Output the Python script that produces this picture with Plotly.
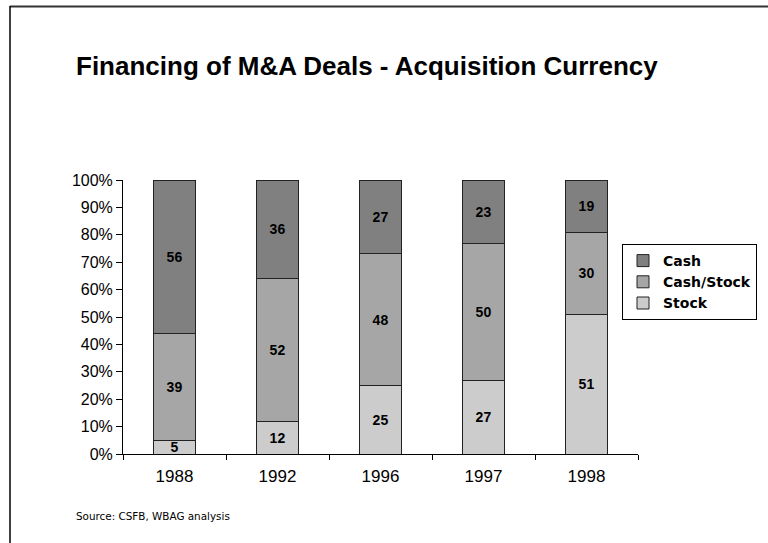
import plotly.graph_objects as go

years = ["1988", "1992", "1996", "1997", "1998"]
stock = [5, 12, 25, 27, 51]
cash_stock = [39, 52, 48, 50, 30]
cash = [56, 36, 27, 23, 19]

series = [
    ("Stock", stock, "#cccccc"),
    ("Cash/Stock", cash_stock, "#a6a6a6"),
    ("Cash", cash, "#808080"),
]

fig = go.Figure()
for name, vals, col in series:
    fig.add_bar(
        name=name, x=years, y=vals,
        marker=dict(color=col, line=dict(color="#222222", width=1)),
        text=vals, texttemplate="<b>%{text}</b>",
        textposition="inside", insidetextanchor="middle",
        textangle=0, constraintext="none",
        textfont=dict(family="Arial, Liberation Sans", size=14, color="black"),
        hoverinfo="skip",
    )

# page geometry in pixels
W, H = 768, 543
L, R, T, B = 123, 130, 180, 89
pw, ph = W - L - R, H - T - B
px = lambda v: (v - L) / pw
py = lambda v: (H - B - v) / ph

fig.update_layout(
    width=W, height=H,
    barmode="stack", bargap=0.59,
    plot_bgcolor="white", paper_bgcolor="white",
    margin=dict(l=L, r=R, t=T, b=B, autoexpand=False),
    title=dict(
        text="<b>Financing of M&A Deals - Acquisition Currency</b>",
        x=76 / W, xanchor="left", y=1 - 66 / H, yanchor="middle",
        font=dict(family="Arial, Liberation Sans", size=26, color="black"),
    ),
    legend=dict(
        x=px(622), y=py(244), xanchor="left", yanchor="top",
        traceorder="reversed",
        bordercolor="black", borderwidth=1, bgcolor="white",
        font=dict(family="Verdana, DejaVu Sans", size=14, color="black",
                  weight="bold"),
        itemwidth=30, tracegroupgap=0,
    ),
    xaxis=dict(
        showline=True, linecolor="black", linewidth=1,
        ticks="outside", tickson="boundaries", ticklen=5, tickcolor="black",
        ticklabelstandoff=7,
        tickfont=dict(family="Arial, Liberation Sans", size=17, color="black"),
        showgrid=False,
    ),
    yaxis=dict(
        range=[0, 100], dtick=10, ticksuffix="%",
        showline=True, linecolor="black", linewidth=1,
        ticks="outside", ticklen=6, tickcolor="black",
        tickfont=dict(family="Arial, Liberation Sans", size=16, color="black"),
        showgrid=False, zeroline=False,
    ),
    shapes=[
        # page frame, top and left edges
        dict(type="line", xref="paper", yref="paper",
             x0=px(10), x1=px(W), y0=py(6.5), y1=py(6.5),
             line=dict(color="#333333", width=2)),
        dict(type="line", xref="paper", yref="paper",
             x0=px(10), x1=px(10), y0=py(6), y1=py(H),
             line=dict(color="black", width=1.5)),
    ],
    annotations=[
        dict(text="Source: CSFB, WBAG analysis", xref="paper", yref="paper",
             x=px(74), y=py(516), xanchor="left", yanchor="middle",
             showarrow=False,
             font=dict(family="Verdana, DejaVu Sans", size=10.4, color="black")),
    ],
)

fig.write_html("out.html", config={"displayModeBar": False},
               post_script="document.body.style.margin='0';")
